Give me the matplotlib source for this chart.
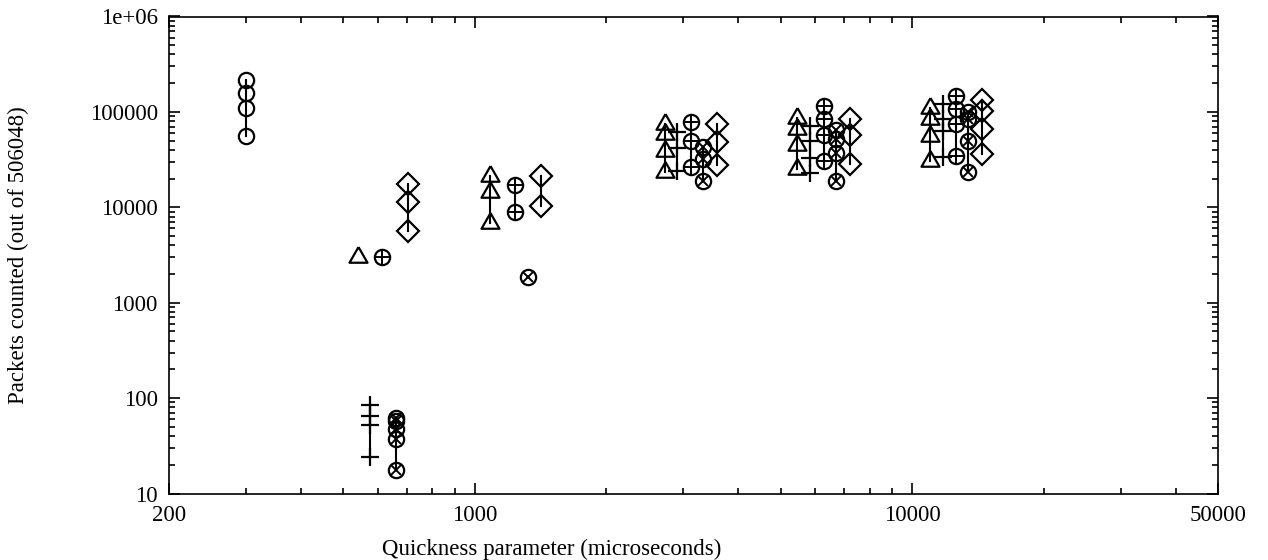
import matplotlib
matplotlib.use("Agg")
import matplotlib.pyplot as plt
from matplotlib.ticker import FixedLocator, NullFormatter, LogLocator

plt.rcParams['font.family'] = ['Liberation Serif', 'DejaVu Serif']

# ---- data ----
circle_x = [300]
circle_y = [[216000, 157000, 110000, 55700]]

tri_x = [541, 1083, 2721, 5451, 10977]
tri_y = [[2990], [21400, 14300, 6900], [74500, 58500, 39000, 23200],
         [86000, 66000, 45000, 25000], [111000, 84000, 56000, 30500]]

plus_x = [576, 2900, 5836, 11750]
plus_y = [[83.8, 65.7, 51.8, 24.4], [61400, 41700, 23900],
          [72000, 50000, 33000, 23000], [121000, 84000, 63000, 33600]]

oplus_x = [614, 1236, 3121, 6284, 12586]
oplus_y = [[3000], [17100, 8900], [77600, 49800, 26200],
           [115000, 84000, 57000, 30500], [147000, 107000, 74500, 34600]]

otimes_x = [661, 1323, 3324, 6692, 13408]
otimes_y = [[61.2, 57, 47, 36.9, 17.5], [1850], [42700, 32000, 18900],
            [64000, 52000, 37000, 19000], [99600, 84000, 49700, 23500]]

dia_x = [704, 1417, 3577, 7203, 14432]
dia_y = [[17500, 11300, 5600], [21400, 10400], [74500, 48200, 27700],
         [84000, 57000, 28300], [133000, 102000, 66000, 36000]]

xtick_vals = [200, 1000, 10000, 50000]
xtick_labels = ['200', '1000', '10000', '50000']
ytick_vals = [10, 100, 1000, 10000, 100000, 1000000]
ytick_labels = ['10', '100', '1000', '10000', '100000', '1e+06']

W, H = 1268, 560
fig = plt.figure(figsize=(W/100, H/100), dpi=100)
L, R, T, B = 169, 1218, 16.5, 493.5
ax = fig.add_axes([L/W, 1 - B/H, (R-L)/W, (B-T)/H])
ax.set_xscale('log')
ax.set_yscale('log')
ax.set_xlim(200, 50000)
ax.set_ylim(10, 1e6)

# gnuplot-like triangle: wide base, data point at centroid
tri_marker = [(0, 1.33), (-1.15, -0.67), (1.15, -0.67), (0, 1.33)]

lw = 1.5
def draw(xs, yss, markers):
    for x, ys in zip(xs, yss):
        ax.plot([x, x], [min(ys), max(ys)], color='black', lw=lw, zorder=2)
        for (m, ms, mew) in markers:
            ax.plot([x]*len(ys), ys, linestyle='none', marker=m, markersize=ms,
                    markerfacecolor='none', markeredgecolor='black',
                    markeredgewidth=mew, zorder=3)

draw(circle_x, circle_y, [('o', 11, 1.6)])
draw(tri_x, tri_y, [(tri_marker, 15, 1.6)])
draw(plus_x, plus_y, [('+', 12.5, 1.6)])
draw(oplus_x, oplus_y, [('o', 11, 1.6), ('+', 11, 1.4)])
draw(otimes_x, otimes_y, [('o', 11, 1.6), ('x', 7.8, 1.4)])
draw(dia_x, dia_y, [('D', 11.2, 1.6)])

ax.xaxis.set_major_locator(FixedLocator(xtick_vals))
ax.set_xticklabels(xtick_labels)
ax.xaxis.set_minor_locator(LogLocator(base=10, subs=range(2, 10)))
ax.xaxis.set_minor_formatter(NullFormatter())
ax.yaxis.set_major_locator(FixedLocator(ytick_vals))
ax.set_yticklabels(ytick_labels)
ax.yaxis.set_minor_locator(LogLocator(base=10, subs=range(2, 10)))
ax.yaxis.set_minor_formatter(NullFormatter())

ax.tick_params(which='both', direction='in', top=True, right=True, width=1.2,
               labelsize=16.5, colors='black')
ax.tick_params(which='major', length=8)
ax.tick_params(axis='y', which='major', pad=8)
ax.tick_params(axis='x', which='major', pad=8.5)
ax.tick_params(which='minor', length=4)
for s in ax.spines.values():
    s.set_linewidth(1.2)
    s.set_color('black')

fig.text(552/W, 1 - 549/H, 'Quickness parameter (microseconds)', ha='center',
         va='center', fontsize=16.5)
fig.text(18/W, 1 - 255/H, 'Packets counted (out of 506048)', ha='center',
         va='center', rotation=90, fontsize=16.5)

fig.savefig('out.png', dpi=100)
